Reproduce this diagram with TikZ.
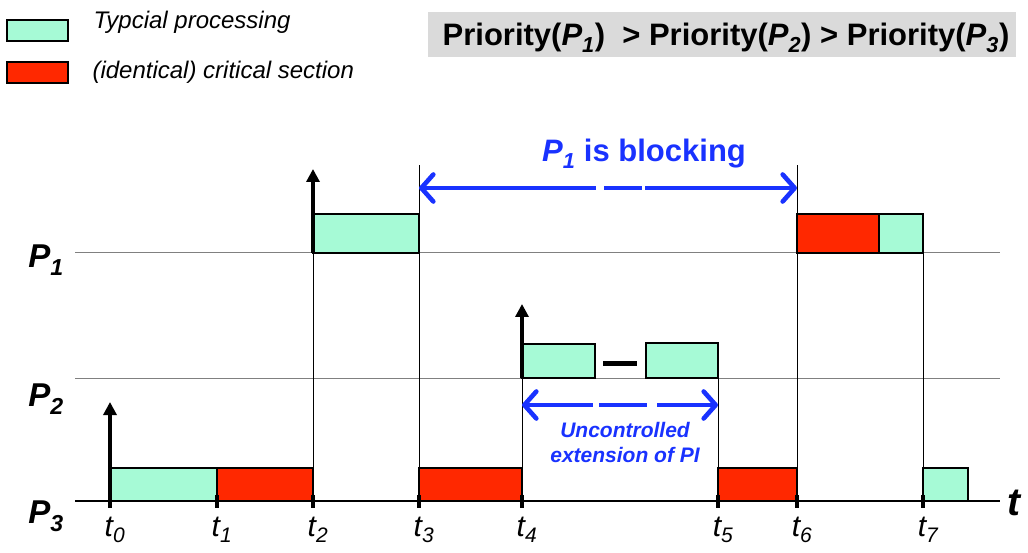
\documentclass[tikz,border=0pt]{standalone}
\usepackage{fontspec}
\setmainfont{Liberation Sans}
\usetikzlibrary{arrows.meta,calc}
\definecolor{procgreen}{RGB}{166,250,214}
\definecolor{critred}{RGB}{255,40,0}
\definecolor{blockblue}{RGB}{25,50,255}
\definecolor{headgray}{RGB}{218,218,218}
\newcommand{\sub}[2]{\textit{#1}\textsubscript{\textit{#2}}}
\tikzset{
  procbox/.style={fill=procgreen, draw=black, line width=1.9pt},
  critbox/.style={fill=critred, draw=black, line width=1.9pt},
  level/.style={draw=gray, line width=1pt},
  timeline/.style={draw=black, line width=1pt},
  release/.style={draw=black, line width=3.2pt, -{Triangle[length=13pt,width=13pt]}},
  tick/.style={draw=black, line width=3.5pt},
  bluearr/.style={draw=blockblue, line width=4.6pt},
  bluetip/.tip={Straight Barb[length=12pt,width=27pt,round]}
}
\begin{document}
\begin{tikzpicture}[x=1pt,y=-1pt]
\useasboundingbox (0,0) rectangle (1028,553);
% legend
\filldraw[procbox, line width=1.5pt] (7,20) rectangle (68,41);
\filldraw[critbox, line width=1.5pt] (7,62) rectangle (68,83);
\node[anchor=west, font=\itshape\fontsize{24}{26}\selectfont] (legproc) at (90,22) {Typcial processing};
\node[anchor=west, font=\itshape\fontsize{24}{26}\selectfont] (legcrit) at (89,72) {(identical) critical section};
% priority order
\fill[headgray] (428,12) rectangle (1016,57);
\node[font=\bfseries\fontsize{31}{33}\selectfont] (prio) at (726,38)
  {Priority(\sub{P}{1})\ \ > Priority(\sub{P}{2}) > Priority(\sub{P}{3})};
% time instants
\coordinate (t0) at (110,501);
\coordinate (t1) at (217,501);
\coordinate (t2) at (313,501);
\coordinate (t3) at (419,501);
\coordinate (t4) at (522,501);
\coordinate (t5) at (718,501);
\coordinate (t6) at (797,501);
\coordinate (t7) at (923,501);
% process levels
\draw[level] (75,253) -- (1000,253);
\draw[level] (75,378) -- (1000,378);
\node[font=\bfseries\itshape\fontsize{33}{35}\selectfont] (p1) at (46,260) {P\textsubscript{1}};
\node[font=\bfseries\itshape\fontsize{33}{35}\selectfont] (p2) at (46,399) {P\textsubscript{2}};
\node[font=\bfseries\itshape\fontsize{33}{35}\selectfont] (p3) at (46,516) {P\textsubscript{3}};
% vertical lines
\draw[timeline] (t2) -- (313,253);
\draw[timeline] (t3) -- (419,165);
\draw[timeline] (t4) -- (522,378);
\draw[timeline] (t5) -- (718,343);
\draw[timeline] (t6) -- (797,165);
\draw[timeline] (t7) -- (923,214);
% P3
\filldraw[procbox] (110,468) rectangle (217,501);
\filldraw[critbox] (217,468) rectangle (313,501);
\filldraw[critbox] (419,468) rectangle (522,501);
\filldraw[critbox] (718,468) rectangle (797,501);
\filldraw[procbox] (923,468) rectangle (968,501);
% P2
\filldraw[procbox] (522,344) rectangle (595,378);
\filldraw[procbox] (646,343) rectangle (718,378);
\draw[line width=5pt] (603,363) -- (637,363);
% P1
\filldraw[procbox] (313,214) rectangle (419,253);
\filldraw[critbox] (797,214) rectangle (879,253);
\filldraw[procbox] (879,214) rectangle (923,253);
% releases
\draw[release] (t0) -- (110,402);
\draw[release] (313,253) -- (313,169);
\draw[release] (522,378) -- (522,304);
% axis
\draw[line width=1.4pt] (75,501) -- (1000,501);
\foreach \i in {0,...,7} {
  \draw[tick] ($(t\i)+(0,-6)$) -- ($(t\i)+(0,7)$);
  \node[font=\itshape\fontsize{30}{32}\selectfont] (lab\i) at ($(t\i)+(5,29)$) {t\textsubscript{\i}};
}
\node[font=\bfseries\itshape\fontsize{39}{41}\selectfont] (taxis) at (1014,503) {t};
% blocking
\coordinate (blkL) at (419,188);
\coordinate (blkR) at (797,188);
\draw[bluearr, {bluetip}-] (blkL) -- (596,188);
\draw[bluearr] (604,188) -- (642,188);
\draw[bluearr, -{bluetip}] (645,188) -- (blkR);
\node[text=blockblue, font=\bfseries\fontsize{31}{33}\selectfont] (blklab) at (644,154) {\sub{P}{1} is blocking};
% uncontrolled extension
\coordinate (extL) at (522,405);
\coordinate (extR) at (718,405);
\draw[bluearr, {bluetip}-] (extL) -- (593,405);
\draw[bluearr] (599,405) -- (647,405);
\draw[bluearr, -{bluetip}] (657,405) -- (extR);
\node[text=blockblue, align=center, font=\bfseries\itshape\fontsize{21}{25}\selectfont] (extlab) at (625,442) {Uncontrolled\\extension of PI};
\end{tikzpicture}
\end{document}
